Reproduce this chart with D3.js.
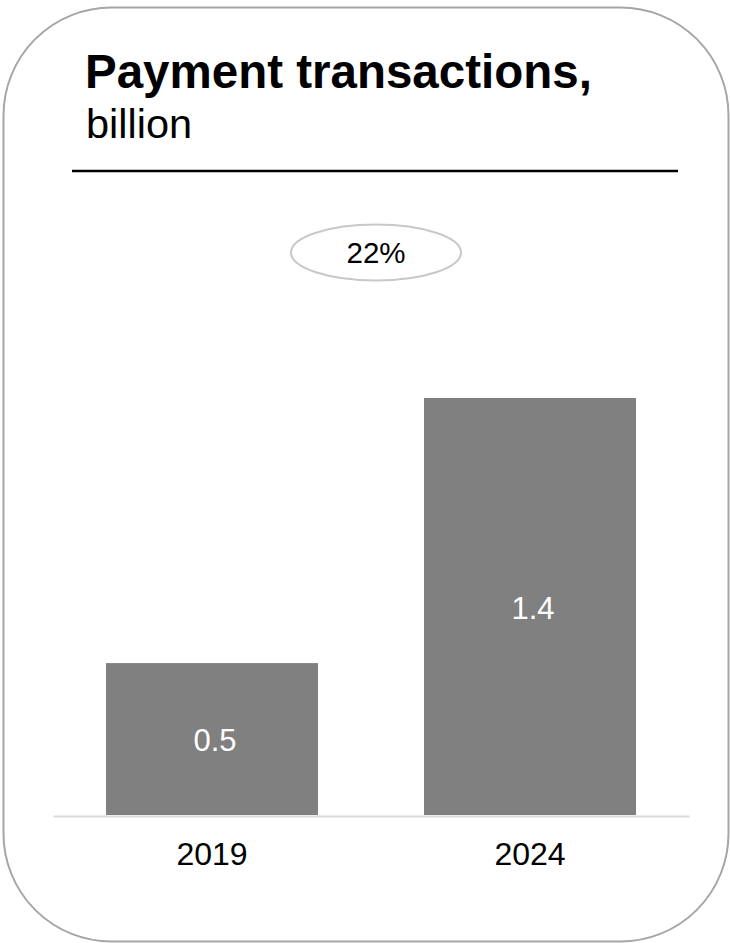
<!DOCTYPE html>
<html>
<head>
<meta charset="utf-8">
<script src="https://cdn.jsdelivr.net/npm/d3@7"></script>
<style>
  html, body { margin: 0; padding: 0; background: #fff; }
  svg { display: block; font-family: "Liberation Sans", Arial, sans-serif; }
</style>
</head>
<body>
<svg id="chart" width="730" height="943"></svg>
<script>
const titleBold = "Payment transactions,";
const titleUnit = "billion";
const categories = ["2019", "2024"];
const values = [0.51, 1.4];
const growthLabel = "22%";

const svg = d3.select("#chart");

// Card border
svg.append("rect")
  .attr("x", 3.5).attr("y", 7.5)
  .attr("width", 725).attr("height", 934)
  .attr("rx", 108).attr("ry", 108)
  .attr("fill", "#fff")
  .attr("stroke", "#a6a6a6")
  .attr("stroke-width", 2);

// Title
svg.append("text")
  .attr("x", 85).attr("y", 88)
  .attr("font-size", 47.5).attr("font-weight", "bold")
  .attr("fill", "#000")
  .text(titleBold);
svg.append("text")
  .attr("x", 86).attr("y", 138)
  .attr("font-size", 41.5)
  .attr("fill", "#000")
  .text(titleUnit);

// Rule under title
svg.append("line")
  .attr("x1", 72).attr("x2", 678)
  .attr("y1", 171).attr("y2", 171)
  .attr("stroke", "#000").attr("stroke-width", 2.5);

// Scales
const x = d3.scaleBand()
  .domain(categories)
  .range([53, 689])
  .paddingInner(1 / 3)
  .paddingOuter(1 / 6);

const y = d3.scaleLinear()
  .domain([0, 1.4])
  .range([815, 398]);

const data = categories.map((c, i) => ({ cat: c, value: values[i] }));

// Bars
svg.append("g").selectAll("rect")
  .data(data)
  .join("rect")
  .attr("x", d => x(d.cat))
  .attr("y", d => y(d.value))
  .attr("width", x.bandwidth())
  .attr("height", d => y(0) - y(d.value))
  .attr("fill", "#808080");

// Value labels
const fmt = d3.format(".1f");
svg.append("g").selectAll("text")
  .data(data)
  .join("text")
  .attr("x", d => x(d.cat) + x.bandwidth() / 2 + 3)
  .attr("y", d => (y(d.value) + y(0)) / 2 + 1)
  .attr("dy", "0.36em")
  .attr("text-anchor", "middle")
  .attr("font-size", 31)
  .attr("fill", "#fff")
  .text(d => fmt(d.value));

// Baseline axis
const xAxis = d3.axisBottom(x).tickSize(0).tickPadding(26);
const axisG = svg.append("g")
  .attr("transform", `translate(0, ${y(0) + 1})`)
  .call(xAxis);
axisG.select(".domain")
  .attr("stroke", "#d9d9d9")
  .attr("stroke-width", 2);
axisG.selectAll(".tick text")
  .attr("font-size", 32)
  .attr("font-family", "'Liberation Sans', Arial, sans-serif")
  .attr("fill", "#000")
  .attr("dy", "0.71em");

// Growth ellipse
const cx = (x(categories[0]) + x(categories[1]) + x.bandwidth()) / 2;
svg.append("ellipse")
  .attr("cx", cx + 5).attr("cy", 252.5)
  .attr("rx", 85).attr("ry", 28)
  .attr("fill", "#fff")
  .attr("stroke", "#c8c8c8")
  .attr("stroke-width", 2);
svg.append("text")
  .attr("x", cx + 5).attr("y", 263)
  .attr("text-anchor", "middle")
  .attr("font-size", 29.5)
  .attr("fill", "#000")
  .text(growthLabel);
</script>
</body>
</html>
